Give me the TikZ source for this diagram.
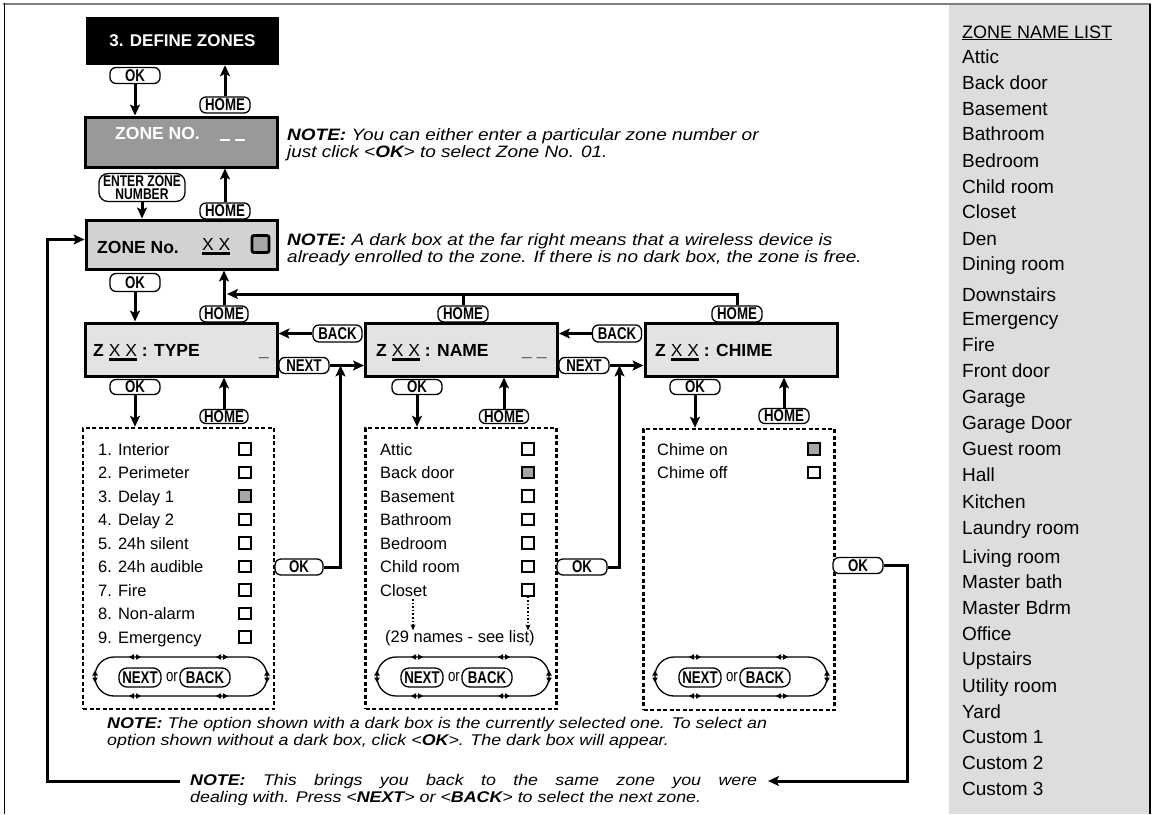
\documentclass[tikz,border=0pt]{standalone}
\usepackage{fontspec}
\setmainfont{Liberation Sans}
\newfontfamily\narrowfont[FakeStretch=0.78]{Liberation Sans}
\newfontfamily\notefont[FakeStretch=1.15]{Liberation Sans}
\usetikzlibrary{arrows.meta}

\newcommand{\uxx}{{\mdseries\setbox0=\hbox{X X}\rlap{\rule[-4.5pt]{\wd0}{2.2pt}}\box0}}

\tikzset{
  pill/.style={draw, fill=white, line width=1.3pt, rounded corners=6pt, inner sep=0pt,
    minimum width=50pt, minimum height=16pt, font=\narrowfont\bfseries\fontsize{17}{13.3}\selectfont},
  screen/.style={draw, line width=3pt, minimum width=192pt, minimum height=53pt, fill=gray!22},
  scrtext/.style={anchor=base west, inner sep=0pt, font=\bfseries\fontsize{17.5}{18}\selectfont},
  link/.style={line width=3pt, -{Stealth[length=11pt, width=10pt, inset=2.5pt]}},
  wire/.style={line width=3pt},
  dotlink/.style={line width=1.6pt, dotted, -{Stealth[length=6pt, width=5pt]}},
  listbox/.style={draw, line width=2.5pt, dash pattern=on 4pt off 2.5pt, minimum width=191pt, minimum height=281pt},
  chk/.style={draw, line width=1.6pt, minimum size=11.5pt, inner sep=0pt},
  item/.style={anchor=base west, inner sep=0pt, font=\fontsize{16.5}{17}\selectfont},
  note/.style={anchor=north west, align=left, inner sep=0pt, font=\notefont\itshape\fontsize{16.5}{17}\selectfont},
}

\begin{document}
\begin{tikzpicture}[x=1pt, y=-1pt]
  \useasboundingbox (0,0) rectangle (1158,814);

  % Frame and zone name panel
  \fill[gray!27] (949,5) rectangle (1150,814);
  \draw[gray, line width=2pt] (3,4) -- (1151,4);
  \draw[line width=1.5pt] (4.5,3) -- (4.5,814);
  \draw[line width=2pt] (1150,4) -- (1150,814);

  % Zone name list
  \node[anchor=base west, inner sep=0pt, font=\fontsize{18}{18}\selectfont] (znhead) at (962,38) {\underline{ZONE NAME LIST}};
  \foreach \y/\t [count=\i] in {63/Attic, 89/Back door, 115/Basement, 140/Bathroom, 167/Bedroom,
      193/Child room, 218/Closet, 245/Den, 270/Dining room, 301/Downstairs, 325/Emergency, 351/Fire,
      377/Front door, 403/Garage, 429/Garage Door, 455/Guest room, 481/Hall, 508/Kitchen,
      534/Laundry room, 563/Living room, 588/Master bath, 614/Master Bdrm, 640/Office, 665/Upstairs,
      692/Utility room, 718/Yard, 743/Custom 1, 769/Custom 2, 795/Custom 3}
    \node[anchor=base west, inner sep=0pt, font=\fontsize{19}{19}\selectfont] (zname\i) at (962,\y) {\t};

  % Define zones
  \node[fill=black, text=white, minimum width=193pt, minimum height=48pt,
    font=\bfseries\fontsize{17}{17}\selectfont] (title) at (182.5,41) {3. DEFINE ZONES};
  \node[pill] (ok1) at (135,75.5) {OK};
  \node[pill] (home1) at (225,105) {HOME};

  % Zone number entry
  \node[screen, fill=gray!80, minimum height=50pt] (zoneno) at (181,142) {};
  \node[scrtext, text=white] (zonenolbl) at (115,139.5) {ZONE NO.};
  \node[scrtext, text=white] (zonenodash) at (220,141)
    {\rule{10pt}{2.4pt}\hspace{5pt}\rule{10pt}{2.4pt}};
  \node[note] (note1) at (287,128) {\textbf{NOTE:} You can either enter a particular zone number or\\just click <\textbf{OK}> to select Zone No. 01.};
  \node[pill, minimum width=86pt, minimum height=28pt, rounded corners=9pt, align=center,
    font=\narrowfont\bfseries\fontsize{15.5}{13.3}\selectfont] (enter) at (142,187.5) {ENTER ZONE\\NUMBER};
  \node[pill] (home2) at (225,211) {HOME};

  % Zone screen
  \node[screen, fill=gray!35, minimum width=191pt, minimum height=49pt] (zone) at (181.5,244.5) {};
  \node[scrtext] (zonelbl) at (97,253) {ZONE No.};
  \node[scrtext] (zonexx) at (202,250) {\uxx};
  \node[draw, line width=2.8pt, fill=gray!70, rounded corners=2pt, minimum size=17pt, inner sep=0pt] (enrolled) at (260.5,244) {};
  \node[note] (note2) at (287,233) {\textbf{NOTE:} A dark box at the far right means that a wireless device is\\already enrolled to the zone. If there is no dark box, the zone is free.};
  \node[pill, minimum height=18pt] (ok2) at (135,282.5) {OK};
  \node[pill, minimum width=48pt] (home3) at (224,314) {HOME};
  \node[pill] (home4) at (463,314) {HOME};
  \node[pill] (home5) at (737,314) {HOME};
  \coordinate (homejoin) at (227,294);

  % Type, name and chime screens
  \node[screen] (type) at (181,349.5) {};
  \node[screen] (name) at (461.5,349.5) {};
  \node[screen] (chime) at (741,349.5) {};
  \node[scrtext] (typelbl) at (93,356) {Z \uxx\ : TYPE};
  \node[scrtext] (typedash) at (259,356) {\_};
  \node[scrtext] (namelbl) at (376,356) {Z \uxx\ : NAME};
  \node[scrtext] (namedash) at (522,356) {\_ \_};
  \node[scrtext] (chimelbl) at (655,356) {Z \uxx\ : CHIME};
  \node[pill, minimum width=49pt, minimum height=17pt] (back1) at (337.5,333.5) {BACK};
  \node[pill] (next1) at (304,365.5) {NEXT};
  \node[pill, minimum width=49pt, minimum height=17pt] (back2) at (617,333.5) {BACK};
  \node[pill] (next2) at (584,365.5) {NEXT};
  \node[pill, minimum height=15pt] (okT) at (135,387) {OK};
  \node[pill, minimum width=48pt, minimum height=14pt] (homeT) at (224,416.5) {HOME};
  \node[pill, minimum height=15pt] (okN) at (417,387) {OK};
  \node[pill, minimum width=49pt, minimum height=14pt] (homeN) at (504,416.5) {HOME};
  \node[pill, minimum height=15pt] (okC) at (695,387) {OK};
  \node[pill, minimum width=50pt, minimum height=15pt] (homeC) at (784,416) {HOME};

  % Option lists
  \node[listbox] (typelist) at (178.5,568.5) {};
  \node[listbox] (namelist) at (461,568.5) {};
  \node[listbox] (chimelist) at (739,569.5) {};
  \foreach \t/\f [count=\i] in {1. Interior/white, 2. Perimeter/white, 3. Delay 1/gray!70,
      4. Delay 2/white, 5. 24h silent/white, 6. 24h audible/white, 7. Fire/white,
      8. Non-alarm/white, 9. Emergency/white} {
    \node[item] (typeitem\i) at (98,431.5+23.5*\i) {\t};
    \node[chk, fill=\f] (typechk\i) at (245,425.5+23.5*\i) {};
  }
  \foreach \t/\f [count=\i] in {Attic/white, Back door/gray!70, Basement/white, Bathroom/white,
      Bedroom/white, Child room/white, Closet/white} {
    \node[item] (nameitem\i) at (380,431.5+23.5*\i) {\t};
    \node[chk, fill=\f] (namechk\i) at (528,425.5+23.5*\i) {};
  }
  \node[item] (namemore) at (385,642.5) {(29 names - see list)};
  \coordinate (moreL) at (413,599);
  \draw[dotlink] (moreL) -- (moreL |- namemore.north);
  \draw[dotlink] (namechk7.south) -- (namechk7.south |- namemore.north);
  \foreach \t/\f [count=\i] in {Chime on/gray!70, Chime off/white} {
    \node[item] (chimeitem\i) at (657,431.5+23.5*\i) {\t};
    \node[chk, fill=\f] (chimechk\i) at (814,425.5+23.5*\i) {};
  }

  % NEXT / BACK loops
  \foreach \L/\n in {83/a, 365/b, 643/c} {
    \draw[line width=1.3pt, rounded corners=19pt] (\L+12,657) rectangle (\L+184,696);
    \foreach \mx in {52,139} {
      \foreach \my in {657,696} {
        \fill (\L+\mx-6,\my) -- ++(5,-2.8) -- ++(0,5.6) -- cycle;
        \fill (\L+\mx+6,\my) -- ++(-5,-2.8) -- ++(0,5.6) -- cycle;
      }
    }
    \foreach \sx in {12,184} {
      \fill (\L+\sx,670.5) -- ++(-2.8,5) -- ++(5.6,0) -- cycle;
      \fill (\L+\sx,682.5) -- ++(-2.8,-5) -- ++(5.6,0) -- cycle;
    }
    \node[pill, minimum width=42pt, minimum height=19pt, rounded corners=8pt] (loopnext\n) at (\L+57,677.5) {NEXT};
    \node[inner sep=0pt, font=\narrowfont\fontsize{17}{15}\selectfont] (loopor\n) at (\L+89,677) {or};
    \node[pill, minimum width=50pt, minimum height=19pt, rounded corners=8pt] (loopback\n) at (\L+122,677.5) {BACK};
  }

  % OK from each list
  \node[pill, minimum width=48pt] (okA) at (299,567) {OK};
  \node[pill] (okB) at (582,567) {OK};
  \node[pill] (okD) at (858,565.5) {OK};
  \coordinate (joinA) at (340.5,365.5);
  \coordinate (joinB) at (619.5,365.5);

  % Notes at the bottom
  \node[note, font=\notefont\itshape\fontsize{15.5}{17}\selectfont] (note3) at (107,717)
    {\textbf{NOTE:} The option shown with a dark box is the currently selected one. To select an\\option shown without a dark box, click <\textbf{OK}>. The dark box will appear.};
  \node[note, font=\notefont\itshape\fontsize{15.5}{17}\selectfont] (backnote) at (190,774)
    {\makebox[567pt][s]{\textbf{NOTE:} This brings you back to the same zone you were}\\dealing with. Press <\textbf{NEXT}> or <\textbf{BACK}> to select the next zone.};
  \coordinate (retR) at (907,781);
  \coordinate (retTip) at (768,781);
  \coordinate (retStart) at (180,781);
  \coordinate (retL) at (47,781);

  % Connectors
  \draw[link] (ok1) -- (ok1 |- zoneno.north);
  \draw[link] (home1) -- (home1 |- title.south);
  \draw[link] (enter) -- (enter |- zone.north);
  \draw[link] (home2) -- (home2 |- zoneno.south);
  \draw[link] (ok2) -- (ok2 |- type.north);
  \draw[link] (home3) -- (home3 |- zone.south);
  \draw[wire] (home4) -- (home4 |- homejoin);
  \draw[link] (home5) |- (homejoin);
  \draw[link] (back1) -- (back1 -| type.east);
  \draw[link] (next1) -- (next1 -| name.west);
  \draw[link] (back2) -- (back2 -| name.east);
  \draw[link] (next2) -- (next2 -| chime.west);
  \draw[link] (okT) -- (okT |- typelist.north);
  \draw[link] (okN) -- (okN |- namelist.north);
  \draw[link] (okC) -- (okC |- chimelist.north);
  \draw[link] (homeT) -- (homeT |- type.south);
  \draw[link] (homeN) -- (homeN |- name.south);
  \draw[link] (homeC) -- (homeC |- chime.south);
  \draw[link] (okA) -| (joinA);
  \draw[link] (okB) -| (joinB);
  \draw[link] (okD) -| (retR) -- (retTip);
  \draw[link] (retStart) -- (retL) |- ([yshift=5pt]zone.west);
\end{tikzpicture}
\end{document}
